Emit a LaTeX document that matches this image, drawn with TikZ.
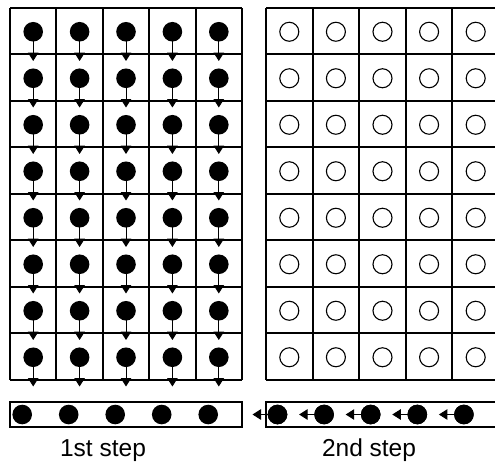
\documentclass[tikz,border=0pt]{standalone}
\usepackage{fontspec}
\setmainfont{Liberation Sans}
\usetikzlibrary{arrows.meta}
\begin{document}
\begin{tikzpicture}[x=1pt,y=-1pt,
  gridline/.style={line width=1.8pt},
  dot/.style={circle,fill=black,inner sep=0pt,minimum size=19.6pt},
  hole/.style={circle,draw=black,line width=1.1pt,inner sep=0pt,minimum size=19pt},
  flow/.style={line width=1pt,-{Triangle[length=8.5pt,width=10.5pt]}},
  caption/.style={font=\fontsize{24.5}{28}\selectfont,inner sep=0pt,anchor=base}]
\useasboundingbox (0,0) rectangle (495,467);
\clip (0,0) rectangle (495,467);
% row lines shared by both panels
\def\rows{8,54,101,147,194,240,287,333,380}
% left panel: filled cells, each shifting its content one row down
\foreach \i in {0,...,4}{
  \foreach \j in {0,...,7}{
    \node[dot] (L-\i-\j) at ({10+46.4*(\i+0.5)},{8+46.5*(\j+0.5)+0.5}) {};
    \coordinate (Lt-\i-\j) at ({10+46.4*(\i+0.5)},{8+46.5*(\j+1)+6.5});
    \draw[flow] (L-\i-\j.center) -- (Lt-\i-\j);
  }
}
\foreach \x in {10,56,103,149,196,242}
  \draw[gridline] (\x,8) -- (\x,380);
\foreach \y in \rows
  \draw[gridline] (10,\y) -- (242,\y);
% right panel: emptied cells
\foreach \i in {0,...,4}{
  \foreach \j in {0,...,7}{
    \node[hole,fill=white] (R-\i-\j) at ({266+46.6*(\i+0.5)},{8+46.5*(\j+0.5)+0.5}) {};
  }
}
\foreach \x in {266,313,359,406,452,499}
  \draw[gridline] (\x,8) -- (\x,380);
\foreach \y in \rows
  \draw[gridline] (266,\y) -- (505,\y);
% left bar: collected row
\node[draw,line width=1.8pt,minimum width=232pt,minimum height=25pt,inner sep=0pt] (barL) at (126,414.5) {};
\foreach \i in {0,...,4}
  \node[dot] (B-\i) at ({22.2+46.5*\i},414.5) {};
% right bar: row shifting out to the left
\node[draw,line width=1.8pt,minimum width=240pt,minimum height=25pt,inner sep=0pt] (barR) at (386,414.5) {};
\foreach \i in {0,...,4}{
  \node[dot] (C-\i) at ({277.5+46.6*\i},414.5) {};
  \coordinate (Ct-\i) at ({277.5+46.6*\i-25},414.5);
  \draw[flow] (C-\i.center) -- (Ct-\i);
  \node[dot] at (C-\i) {};
}
% captions
\node[caption] (cap1) at (103,456.7) {1st step};
\node[caption] (cap2) at (369,456.7) {2nd step};
\end{tikzpicture}
\end{document}
